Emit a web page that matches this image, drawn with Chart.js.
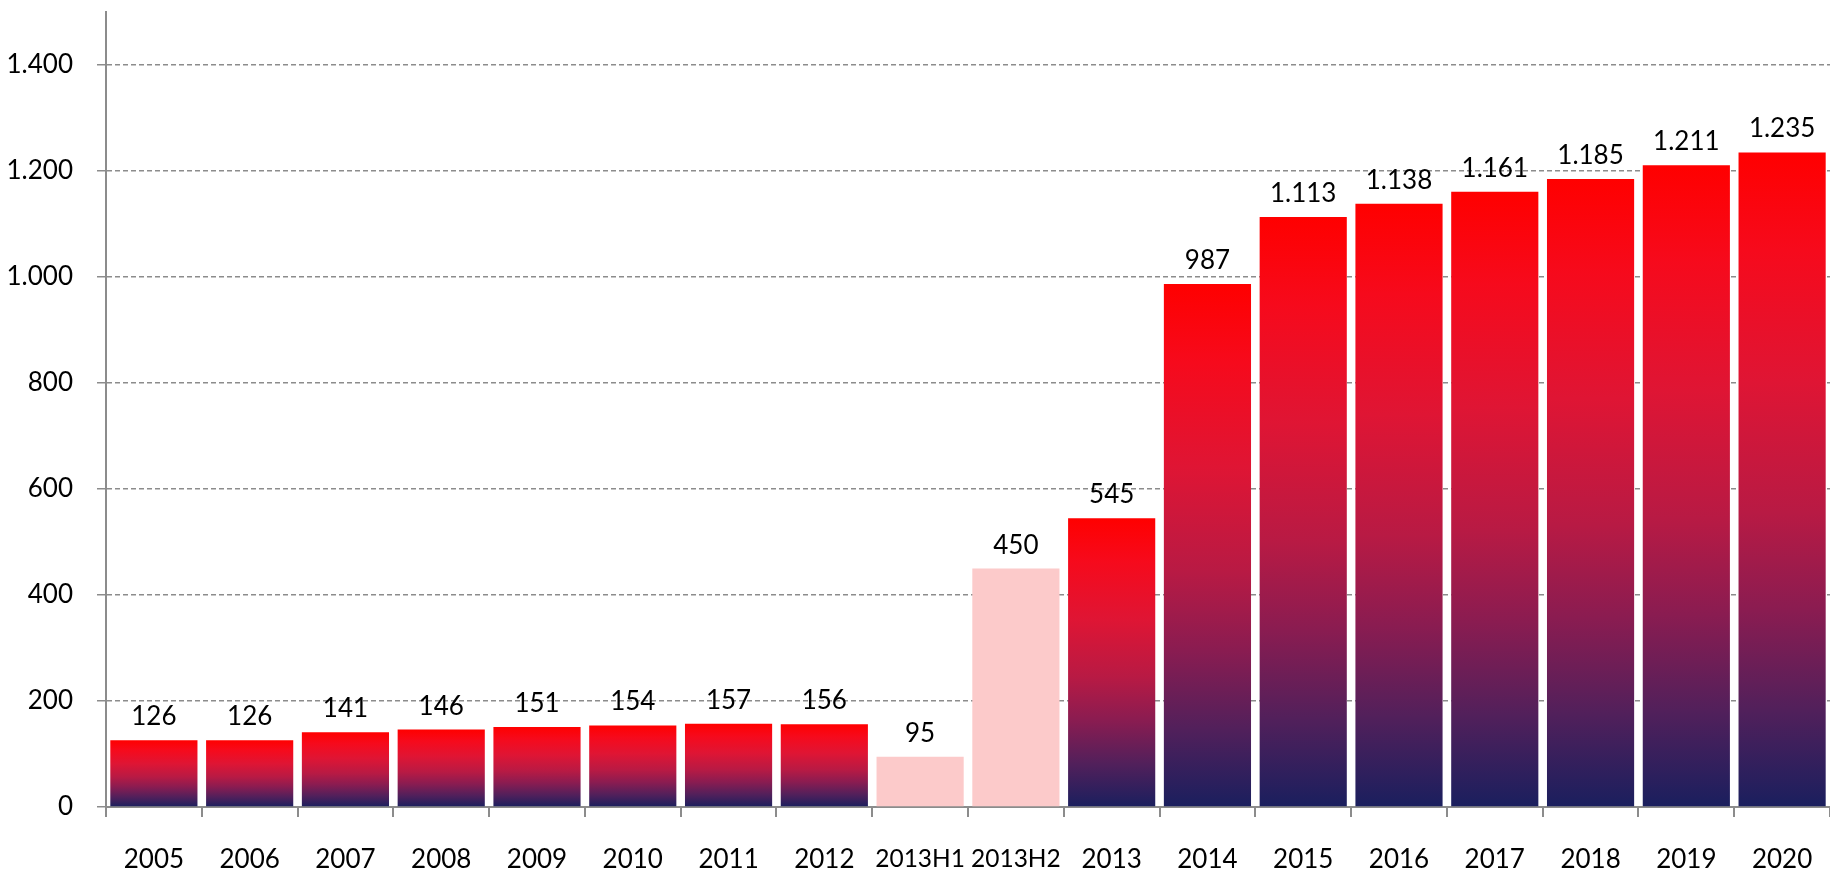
<!DOCTYPE html>
<html>
<head>
<meta charset="utf-8">
<script src="https://cdn.jsdelivr.net/npm/chart.js@4/dist/chart.umd.min.js"></script>
<style>
  html, body { margin: 0; padding: 0; background: #fff; }
  #wrap { width: 1830px; height: 873px; }
</style>
</head>
<body>
<div id="wrap"><canvas id="myChart" width="1830" height="873"></canvas></div>
<script>
const labels = ['2005', '2006', '2007', '2008', '2009', '2010', '2011', '2012',
  '2013H1', '2013H2', '2013', '2014', '2015', '2016', '2017', '2018', '2019', '2020'];
const values = [126, 126, 141, 146, 151, 154, 157, 156, 95, 450, 545, 987, 1113, 1138, 1161, 1185, 1211, 1235];
const paleBars = ['2013H1', '2013H2'];
const yTicks = [0, 200, 400, 600, 800, 1000, 1200, 1400];

const fmt = (v) => String(v).replace(/\B(?=(\d{3})+(?!\d))/g, '.');
const FONT = 'Lato, "Open Sans", sans-serif';

// gradient red -> navy, stretched over each bar's own height
const barColor = (context) => {
  const chart = context.chart;
  const lbl = labels[context.dataIndex];
  if (paleBars.includes(lbl)) return '#fccaca';
  if (!chart.chartArea) return '#ff0000';
  const y = chart.scales.y;
  const top = y.getPixelForValue(values[context.dataIndex]);
  const bottom = y.getPixelForValue(0);
  const g = chart.ctx.createLinearGradient(0, top, 0, bottom);
  g.addColorStop(0, '#ff0000');
  g.addColorStop(0.15, '#f60a1c');
  g.addColorStop(0.35, '#df1534');
  g.addColorStop(0.55, '#b81a44');
  g.addColorStop(0.7, '#8a1c51');
  g.addColorStop(0.85, '#52205b');
  g.addColorStop(1, '#1a1f5e');
  return g;
};

const valueLabels = {
  id: 'valueLabels',
  afterDatasetsDraw(chart) {
    const ctx = chart.ctx;
    const meta = chart.getDatasetMeta(0);
    ctx.save();
    ctx.font = '26px ' + FONT;
    ctx.fillStyle = '#000';
    ctx.textAlign = 'center';
    ctx.textBaseline = 'alphabetic';
    meta.data.forEach((bar, i) => {
      ctx.fillText(fmt(values[i]), bar.x, bar.y - 15);
    });
    ctx.restore();
  }
};

const ctx = document.getElementById('myChart').getContext('2d');

const myChart = new Chart(ctx, {
  type: 'bar',
  data: {
    labels: labels,
    datasets: [{
      data: values,
      backgroundColor: barColor,
      borderWidth: 0,
      barPercentage: 0.91,
      categoryPercentage: 1.0
    }]
  },
  plugins: [valueLabels],
  options: {
    responsive: false,
    animation: false,
    layout: { padding: { top: 12, right: 0, left: 0, bottom: 0 } },
    plugins: {
      legend: { display: false },
      tooltip: { enabled: false }
    },
    scales: {
      x: {
        grid: {
          offset: true,
          drawOnChartArea: false,
          drawTicks: true,
          tickLength: 10,
          color: '#8c8c8c',
          lineWidth: 2
        },
        border: { color: '#8c8c8c', width: 2 },
        ticks: {
          autoSkip: false,
          maxRotation: 0,
          padding: 27,
          color: '#000',
          // Lato is wider than the original font, shrink the long labels a bit
          font: (c) => ({
            family: FONT,
            size: (labels[c.index] || '').length > 4 ? 24.5 : 26
          })
        },
        afterFit: (scale) => {
          scale.height = 66;
          scale.paddingLeft = 0;
          scale.paddingRight = 0;
        }
      },
      y: {
        min: 0,
        max: 1500,
        afterBuildTicks: (scale) => {
          scale.ticks = yTicks.map(v => ({ value: v }));
        },
        grid: {
          color: '#8c8c8c',
          lineWidth: 1.5,
          tickLength: 9,
          tickColor: '#8c8c8c',
          tickBorderDash: []
        },
        // in v4 border.dash sets the dash of the grid lines
        border: { color: '#8c8c8c', width: 2, dash: [5, 3] },
        ticks: {
          padding: 24,
          color: '#000',
          font: { family: FONT, size: 26 },
          callback: (v) => fmt(v)
        },
        afterFit: (scale) => {
          scale.width = 106;
          scale.paddingTop = 0;
          scale.paddingBottom = 0;
        }
      }
    }
  }
});
</script>
</body>
</html>
